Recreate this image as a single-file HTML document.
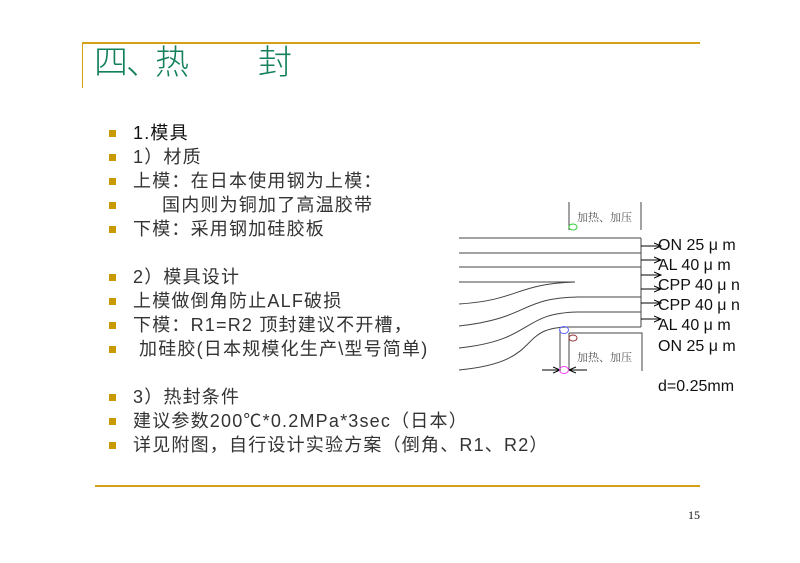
<!DOCTYPE html>
<html><head><meta charset="utf-8"><style>
body{margin:0;background:#fff}
#p{position:relative;width:800px;height:563px;overflow:hidden;background:#fff;font-family:"Liberation Sans","Noto Sans CJK SC",sans-serif}
.t{position:absolute;white-space:nowrap;font-size:18px;letter-spacing:1.2px;color:#333;line-height:20px}
.h{position:absolute;white-space:nowrap;font-size:34px;line-height:40px;color:#12805a;font-family:'Noto Sans CJK SC',sans-serif;font-weight:300}
.b{position:absolute;left:109px;width:7px;height:7px;background:#c89a00}
.l{position:absolute;font-size:16px;color:#111;line-height:18px;white-space:nowrap}
</style></head><body><div id="p">
<div style="position:absolute;left:82px;top:42px;width:618px;height:2px;background:#d4a017"></div>
<div style="position:absolute;left:82px;top:42px;width:1px;height:46px;background:#d4a017"></div>
<div class="h" style="left:94px;top:40px">四</div>
<div class="h" style="left:126px;top:40px">、</div>
<div class="h" style="left:155px;top:40px">热</div>
<div class="h" style="left:258px;top:40px">封</div>

<div class="b" style="top:130px"></div><div class="t" style="left:133px;top:123px;color:#111">1.模具</div>
<div class="b" style="top:154px"></div><div class="t" style="left:133px;top:147px">1）材质</div>
<div class="b" style="top:178px"></div><div class="t" style="left:133px;top:171px">上模：在日本使用钢为上模：</div>
<div class="b" style="top:202px"></div><div class="t" style="left:162px;top:195px">国内则为铜加了高温胶带</div>
<div class="b" style="top:226px"></div><div class="t" style="left:133px;top:219px">下模：采用钢加硅胶板</div>
<div class="b" style="top:274px"></div><div class="t" style="left:133px;top:267px">2）模具设计</div>
<div class="b" style="top:298px"></div><div class="t" style="left:133px;top:291px">上模做倒角防止ALF破损</div>
<div class="b" style="top:322px"></div><div class="t" style="left:133px;top:315px">下模：R1=R2 顶封建议不开槽，</div>
<div class="b" style="top:346px"></div><div class="t" style="left:139px;top:339px">加硅胶(日本规模化生产\型号简单)</div>
<div class="b" style="top:394px"></div><div class="t" style="left:133px;top:387px">3）热封条件</div>
<div class="b" style="top:418px"></div><div class="t" style="left:133px;top:411px">建议参数200℃*0.2MPa*3sec（日本）</div>
<div class="b" style="top:442px"></div><div class="t" style="left:133px;top:435px">详见附图，自行设计实验方案（倒角、R1、R2）</div>

<div style="position:absolute;left:95px;top:485px;width:605px;height:2px;background:#d4a017"></div>
<div class="t" style="left:688px;top:505px;font-size:12px;letter-spacing:0;color:#111;font-family:'Liberation Serif',serif">15</div>

<svg width="800" height="563" style="position:absolute;left:0;top:0" fill="none" stroke="#444" stroke-width="1">
<defs><marker id="a" markerWidth="8" markerHeight="8" refX="7" refY="4" orient="auto"><path d="M0,1 L7,4 L0,7" stroke="#000"/></marker></defs>
<path d="M569,202 V230 M641,202 V230"/>
<line x1="459" y1="238" x2="641" y2="238"/><line x1="459" y1="253" x2="641" y2="253"/>
<line x1="459" y1="267" x2="641" y2="267"/><line x1="459" y1="282" x2="575" y2="282"/>
<path d="M641,238 V327"/>
<path d="M459,304 C520,300 515,284 575,282"/>
<path d="M459,326 C530,318 520,298 578,297 H641"/>
<path d="M459,348 C535,340 520,313 578,312 H641"/>
<path d="M459,370 C545,362 515,328 568,327 H641"/>
<path d="M569,333 H642 V371"/>
<path d="M560,330 V370 M569,333 V370"/>
<line x1="542" y1="370" x2="560" y2="370" stroke="#000" marker-end="url(#a)"/>
<line x1="587" y1="370" x2="569" y2="370" stroke="#000" marker-end="url(#a)"/>
<g stroke="#000"><line x1="641" y1="246" x2="661" y2="246" marker-end="url(#a)"/>
<line x1="641" y1="260" x2="661" y2="260" marker-end="url(#a)"/>
<line x1="641" y1="275" x2="661" y2="275" marker-end="url(#a)"/>
<line x1="641" y1="289" x2="661" y2="289" marker-end="url(#a)"/>
<line x1="641" y1="303" x2="661" y2="303" marker-end="url(#a)"/>
<line x1="641" y1="319" x2="661" y2="319" marker-end="url(#a)"/></g>
<ellipse cx="573" cy="227" rx="4" ry="3" stroke="#3c3"/>
<ellipse cx="564" cy="330" rx="4.5" ry="3.5" stroke="#66f"/>
<ellipse cx="573" cy="338" rx="4" ry="3" stroke="#933"/>
<ellipse cx="564" cy="370" rx="4.5" ry="3.5" stroke="#e4e"/>
</svg>
<div class="t" style="left:577px;top:207px;font-size:11px;letter-spacing:0;color:#555;font-family:'Noto Serif CJK SC',serif">加热、加压</div>
<div class="t" style="left:577px;top:347px;font-size:11px;letter-spacing:0;color:#555;font-family:'Noto Serif CJK SC',serif">加热、加压</div>
<div class="l" style="left:658px;top:237px">ON 25 μ m</div>
<div class="l" style="left:658px;top:257px">AL 40 μ m</div>
<div class="l" style="left:658px;top:277px">CPP 40 μ n</div>
<div class="l" style="left:658px;top:297px">CPP 40 μ n</div>
<div class="l" style="left:658px;top:317px">AL 40 μ m</div>
<div class="l" style="left:658px;top:338px">ON 25 μ m</div>
<div class="l" style="left:658px;top:378px">d=0.25mm</div>
</div></body></html>
